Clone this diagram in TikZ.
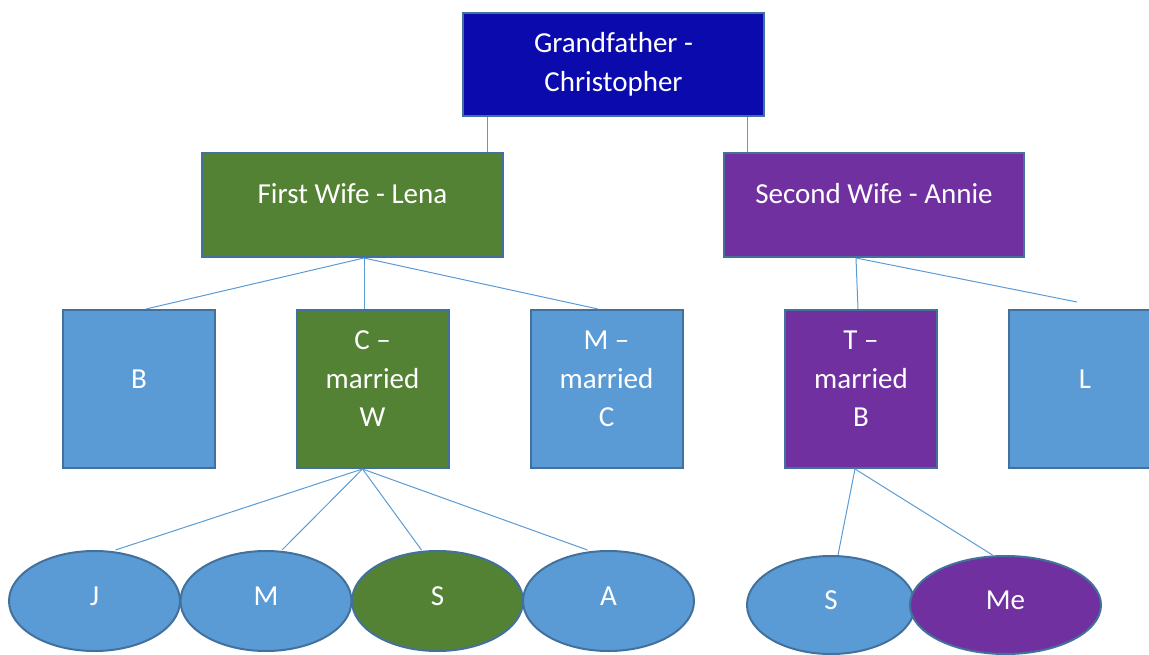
\documentclass[tikz,border=0pt]{standalone}
\usepackage{fontspec}
\setmainfont{Carlito}
\usetikzlibrary{shapes.geometric}
\definecolor{gfblue}{HTML}{0A0AAD}
\definecolor{lgreen}{HTML}{548235}
\definecolor{lpurple}{HTML}{7030A0}
\definecolor{lblue}{HTML}{5B9BD5}
\definecolor{edge}{HTML}{41719C}
\tikzset{
  lbl/.style={text=white, align=center, inner sep=0pt, font=\fontsize{29}{38.5}\selectfont},
  box/.style={draw=edge, line width=2pt, rectangle, inner sep=0pt},
  wide/.style={box, minimum width=301pt, minimum height=104pt},
  sq/.style={box, minimum width=152pt, minimum height=158pt},
  oval/.style={draw=edge, line width=2pt, ellipse, inner sep=0pt,
    minimum width=171pt, minimum height=100pt},
  link/.style={draw=lblue, line width=1pt},
}
\begin{document}
\begin{tikzpicture}[x=1pt,y=-1pt]
\useasboundingbox (0,0) rectangle (1149,655);
\node[wide, fill=gfblue, minimum height=103pt, label={[lbl,yshift=0]center:Grandfather -\\Christopher}] (gf) at (613.5,64.5) {};
\node[wide, fill=lgreen, label={[lbl,yshift=11]center:First Wife - Lena}] (fw) at (352.5,205) {};
\node[wide, fill=lpurple, minimum width=300pt, label={[lbl,yshift=11]center:Second Wife - Annie}] (sw) at (874,205) {};
\node[sq, fill=lblue, label={[lbl,yshift=10]center:B}] (b) at (139,389) {};
\node[sq, fill=lgreen, label={[lbl,yshift=10]center:C –\\married\\W}] (c) at (372.5,389) {};
\node[sq, fill=lblue, label={[lbl,yshift=10]center:M –\\married\\C}] (m) at (606.5,389) {};
\node[sq, fill=lpurple, label={[lbl,yshift=10]center:T –\\married\\B}] (t) at (861,389) {};
\node[sq, fill=lblue, label={[lbl,yshift=10]center:L}] (l) at (1085,389) {};
\node[oval, fill=lblue, label={[lbl,yshift=5]center:J}] (j) at (94.5,601) {};
\node[oval, fill=lblue, label={[lbl,yshift=5]center:M}] (mm) at (266,601) {};
\node[oval, fill=lgreen, label={[lbl,yshift=5]center:S}] (s) at (437.5,601) {};
\node[oval, fill=lblue, label={[lbl,yshift=5]center:A}] (a) at (608.5,601) {};
\node[oval, fill=lblue, minimum width=168pt, minimum height=98pt, label={[lbl,yshift=5]center:S}] (s2) at (831,605) {};
\node[oval, fill=lpurple, minimum width=191pt, minimum height=98pt, label={[lbl,yshift=5]center:Me}] (me) at (1005.5,605) {};
\coordinate (lend) at (1077,302);
\draw[link] ([xshift=-126.5]gf.south) -- ([xshift=-126.5]gf.south |- fw.north);
\draw[link] ([xshift=133.5]gf.south) -- ([xshift=133.5]gf.south |- sw.north);
\draw[link] ([xshift=11.5]fw.south) -- ([xshift=7]b.north);
\draw[link] ([xshift=11.5]fw.south) -- ([xshift=-8.5]c.north);
\draw[link] ([xshift=11.5]fw.south) -- ([xshift=-8.5]m.north);
\draw[link] ([xshift=-18]sw.south) -- ([xshift=-3]t.north);
\draw[link] ([xshift=-18]sw.south) -- (lend);
\draw[link] ([xshift=-10]c.south) -- ([xshift=21]j.north);
\draw[link] ([xshift=-10]c.south) -- ([xshift=16]mm.north);
\draw[link] ([xshift=-10]c.south) -- ([xshift=-16]s.north);
\draw[link] ([xshift=-10]c.south) -- ([xshift=-21]a.north);
\draw[link] ([xshift=-6]t.south) -- ([xshift=7]s2.north);
\draw[link] ([xshift=-6]t.south) -- ([xshift=-13]me.north);
\end{tikzpicture}
\end{document}
